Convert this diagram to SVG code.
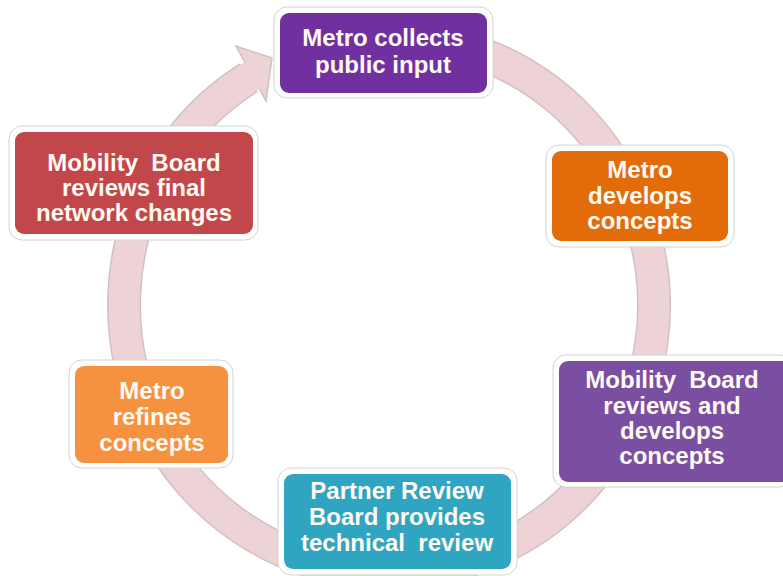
<svg xmlns="http://www.w3.org/2000/svg" width="783" height="576" viewBox="0 0 783 576">
<style>
.frame{fill:#ffffff;stroke:#d4d4d4;stroke-width:1}
.lbl{font-family:"Liberation Sans",Arial,sans-serif;font-weight:bold;font-size:24px;fill:#fffaf2;text-anchor:middle}
.edge{fill:none;stroke:#d2c0c3;stroke-width:34}
.band{fill:none;stroke:#edd2d6;stroke-width:31}
.head{fill:#edd2d6;stroke:#d2c0c3;stroke-width:1.5;stroke-linejoin:miter}
</style>
<rect width="783" height="576" fill="#ffffff"/>
<g id="connectors">
<path class="edge" d="M 365.9 38.0 A 265 268 0 1 1 248.6 77.7"/>
<polygon class="head" points="272,58 236,46 266,101"/>
<path class="band" d="M 365.9 38.0 A 265 268 0 1 1 254.5 74.1"/>
</g>
<g id="node-collect">
<rect class="frame" x="274" y="7" width="219" height="91" rx="13"/>
<rect x="280" y="13" width="207" height="80" rx="9" fill="#7030a0"/>
<text class="lbl" x="383" y="46" font-size="25">Metro collects</text>
<text class="lbl" x="383" y="73" font-size="25">public input</text>
</g>
<g id="node-develops">
<rect class="frame" x="546" y="145" width="188" height="102" rx="13"/>
<rect x="552" y="151" width="176" height="90" rx="9" fill="#e26b0a"/>
<text class="lbl" x="640" y="178">Metro</text>
<text class="lbl" x="640" y="204">develops</text>
<text class="lbl" x="640" y="229">concepts</text>
</g>
<g id="node-mobility-review">
<rect class="frame" x="553" y="355" width="240" height="132" rx="13"/>
<rect x="559" y="361" width="240" height="121" rx="9" fill="#7a4fa2"/>
<text class="lbl" x="672" y="388" xml:space="preserve">Mobility  Board</text>
<text class="lbl" x="672" y="414">reviews and</text>
<text class="lbl" x="672" y="439">develops</text>
<text class="lbl" x="672" y="464">concepts</text>
</g>
<g id="node-partner">
<rect class="frame" x="278" y="468" width="239" height="107" rx="13"/>
<rect x="284" y="474" width="227" height="95" rx="9" fill="#30a5c2"/>
<text class="lbl" x="397" y="499">Partner Review</text>
<text class="lbl" x="397" y="525">Board provides</text>
<text class="lbl" x="397" y="551" xml:space="preserve">technical  review</text>
</g>
<g id="node-refines">
<rect class="frame" x="69" y="360" width="164" height="108" rx="13"/>
<rect x="75" y="366" width="153" height="97" rx="9" fill="#f6913f"/>
<text class="lbl" x="152" y="399">Metro</text>
<text class="lbl" x="152" y="425">refines</text>
<text class="lbl" x="152" y="451">concepts</text>
</g>
<g id="node-final">
<rect class="frame" x="9" y="126" width="249" height="114" rx="13"/>
<rect x="15" y="132" width="238" height="102" rx="9" fill="#c2474a"/>
<text class="lbl" x="134" y="171" xml:space="preserve">Mobility  Board</text>
<text class="lbl" x="134" y="196">reviews final</text>
<text class="lbl" x="134" y="221">network changes</text>
</g>
</svg>
